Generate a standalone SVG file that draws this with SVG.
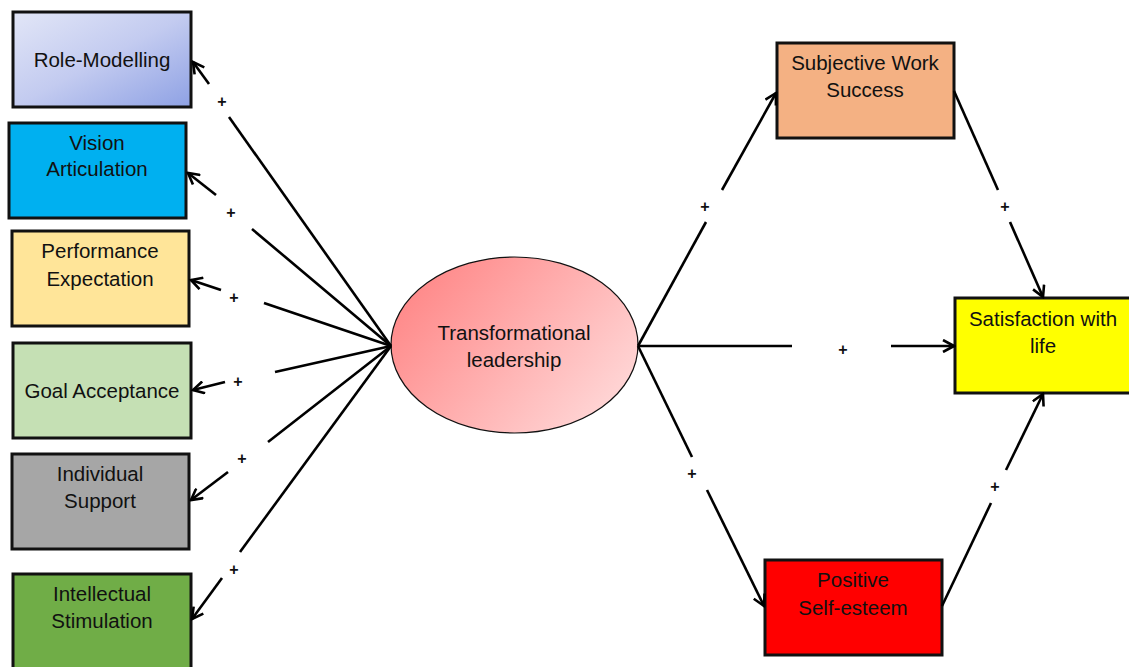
<svg xmlns="http://www.w3.org/2000/svg" width="1129" height="667" viewBox="0 0 1129 667">
<style>
.box{stroke:#111;stroke-width:3}
.t{font-family:"Liberation Sans",Arial,sans-serif;font-size:20.5px;fill:#111;text-anchor:middle}
.p{font-family:"Liberation Sans",Arial,sans-serif;font-size:16px;font-weight:bold;fill:#111;text-anchor:middle}
.c{stroke:#000;stroke-width:2.6;fill:none}
.a{marker-end:url(#arr)}
</style>
<defs>
<marker id="arr" viewBox="0 0 14 14" refX="12" refY="7" markerWidth="14" markerHeight="14" markerUnits="userSpaceOnUse" orient="auto">
<path d="M1,1 L12,7 L1,13" fill="none" stroke="#000" stroke-width="2.6"/>
</marker>
<linearGradient id="gRole" x1="0" y1="0" x2="1" y2="1">
<stop offset="0" stop-color="#e2e6f7"/>
<stop offset="0.5" stop-color="#c3cbf0"/>
<stop offset="1" stop-color="#8ea1e4"/>
</linearGradient>
<linearGradient id="gEll" x1="0" y1="0.2" x2="1" y2="0.8">
<stop offset="0" stop-color="#ff8585"/>
<stop offset="1" stop-color="#ffdada"/>
</linearGradient>
</defs>
<rect width="1129" height="667" fill="#fff"/>

<g id="role-modelling"><rect class="box" x="13" y="12" width="178" height="95" fill="url(#gRole)"/><text class="t" x="102" y="67">Role-Modelling</text></g>
<g id="vision-articulation"><rect class="box" x="9" y="123" width="177" height="95" fill="#00b0f0"/><text class="t" x="97" y="150">Vision</text><text class="t" x="97" y="176">Articulation</text></g>
<g id="performance-expectation"><rect class="box" x="12" y="231" width="177" height="95" fill="#ffe599"/><text class="t" x="100" y="258">Performance</text><text class="t" x="100" y="286">Expectation</text></g>
<g id="goal-acceptance"><rect class="box" x="13" y="343" width="178" height="95" fill="#c5e0b4"/><text class="t" x="102" y="398">Goal Acceptance</text></g>
<g id="individual-support"><rect class="box" x="12" y="454" width="177" height="95" fill="#a6a6a6"/><text class="t" x="100" y="481">Individual</text><text class="t" x="100" y="508">Support</text></g>
<g id="intellectual-stimulation"><rect class="box" x="13" y="574" width="178" height="100" fill="#70ad47"/><text class="t" x="102" y="601">Intellectual</text><text class="t" x="102" y="628">Stimulation</text></g>

<g id="transformational-leadership"><ellipse cx="514.5" cy="345" rx="123.5" ry="88" fill="url(#gEll)" stroke="#111" stroke-width="1.2"/><text class="t" x="514" y="340">Transformational</text><text class="t" x="514" y="367">leadership</text></g>

<g id="subjective-work-success"><rect class="box" x="777" y="43" width="177" height="95" fill="#f4b183"/><text class="t" x="865" y="70">Subjective Work</text><text class="t" x="865" y="97">Success</text></g>
<g id="satisfaction-with-life"><rect class="box" x="955" y="298" width="180" height="95" fill="#ffff00"/><text class="t" x="1043" y="326">Satisfaction with</text><text class="t" x="1043" y="353">life</text></g>
<g id="positive-self-esteem"><rect class="box" x="765" y="560" width="177" height="95" fill="#ff0000"/><text class="t" x="853" y="587">Positive</text><text class="t" x="853" y="615">Self-esteem</text></g>

<g id="connectors">
<line class="c" x1="391" y1="346" x2="229" y2="117"/><line class="c a" x1="209" y1="84" x2="193" y2="62"/>
<line class="c" x1="391" y1="346" x2="252" y2="229"/><line class="c a" x1="216" y1="195" x2="188" y2="173"/>
<line class="c" x1="391" y1="346" x2="264" y2="303"/><line class="c a" x1="221" y1="290" x2="191" y2="280"/>
<line class="c" x1="391" y1="346" x2="275" y2="372"/><line class="c a" x1="225" y1="382" x2="193" y2="390"/>
<line class="c" x1="391" y1="346" x2="268" y2="442"/><line class="c a" x1="228" y1="472" x2="191" y2="500"/>
<line class="c" x1="391" y1="346" x2="240" y2="552"/><line class="c a" x1="222" y1="578" x2="192" y2="619"/>

<line class="c" x1="638" y1="346" x2="706" y2="222"/><line class="c a" x1="722" y1="190" x2="776" y2="93"/>
<line class="c" x1="954" y1="91" x2="998" y2="190"/><line class="c a" x1="1010" y1="222" x2="1043" y2="297"/>
<line class="c" x1="638" y1="346" x2="792" y2="346"/><line class="c a" x1="891" y1="346" x2="954" y2="346"/>
<line class="c" x1="638" y1="346" x2="692" y2="457"/><line class="c a" x1="707" y1="490" x2="764" y2="606"/>
<line class="c" x1="942" y1="606" x2="991" y2="503"/><line class="c a" x1="1006" y1="470" x2="1043" y2="394"/>

<text class="p" x="222" y="107">+</text>
<text class="p" x="231" y="218">+</text>
<text class="p" x="234" y="303">+</text>
<text class="p" x="238" y="387">+</text>
<text class="p" x="242" y="464">+</text>
<text class="p" x="234" y="575">+</text>
<text class="p" x="705" y="212">+</text>
<text class="p" x="1005" y="212">+</text>
<text class="p" x="843" y="355">+</text>
<text class="p" x="692" y="479">+</text>
<text class="p" x="995" y="492">+</text>
</g>
</svg>
